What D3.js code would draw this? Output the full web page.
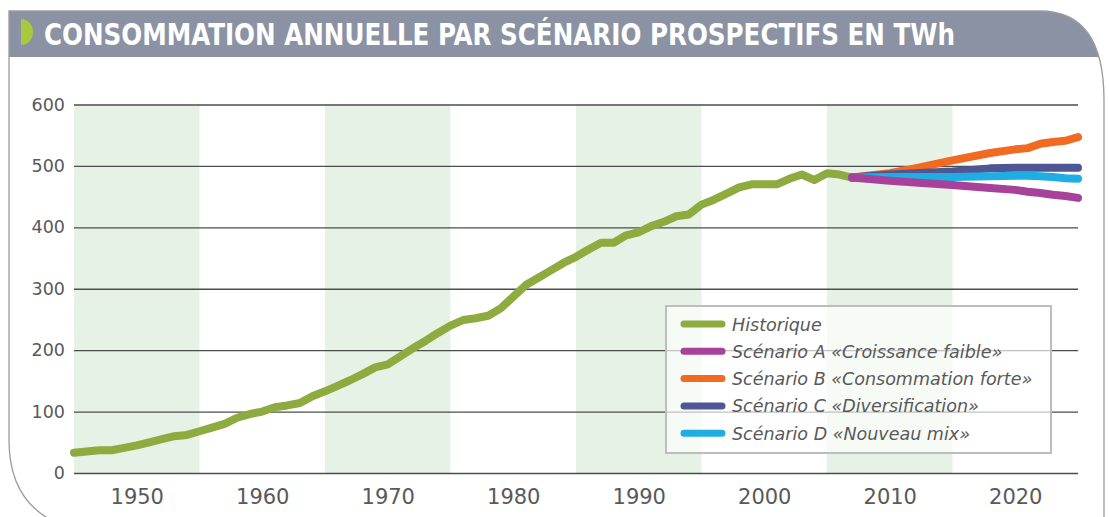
<!DOCTYPE html>
<html>
<head>
<meta charset="utf-8">
<script src="https://cdn.jsdelivr.net/npm/d3@7"></script>
<style>
  html, body { margin: 0; padding: 0; background: #fff; }
  svg { display: block; }
</style>
</head>
<body>
<div id="graphic"></div>
<script>
'use strict';

// --- data ---
const histYears = [1945, 1946, 1947, 1948, 1949, 1950, 1951, 1952, 1953, 1954, 1955, 1956, 1957, 1958, 1959,
  1960, 1961, 1962, 1963, 1964, 1965, 1966, 1967, 1968, 1969, 1970, 1971, 1972, 1973, 1974, 1975, 1976,
  1977, 1978, 1979, 1980, 1981, 1982, 1983, 1984, 1985, 1986, 1987, 1988, 1989, 1990, 1991, 1992, 1993,
  1994, 1995, 1996, 1997, 1998, 1999, 2000, 2001, 2002, 2003, 2004, 2005, 2006, 2007];
const histValues = [33, 35, 37, 37, 41, 45, 50, 55, 60, 62, 68, 74, 80, 90, 96,
  100, 107, 110, 114, 125, 133, 142, 151, 161, 172, 177, 190, 203, 215, 228, 240, 249,
  252, 256, 268, 287, 306, 318, 330, 342, 352, 364, 375, 375, 387, 392, 402, 409, 418,
  421, 437, 445, 455, 465, 470, 470, 470, 479, 486, 477, 488, 486, 481];

const scenYears = [2007, 2010, 2012, 2015, 2018, 2020, 2021, 2022, 2023, 2024, 2025];
const scenA = [481, 476, 473, 469, 464, 461, 458, 456, 453, 451, 448];
const scenB = [481, 488, 496, 509, 521, 527, 529, 536, 539, 541, 547];
const scenC = [481, 486, 488, 491, 496, 497, 497, 497, 497, 497, 497];
const scenD = [481, 482, 482, 482, 483, 484, 484, 483, 482, 480, 479];

const seriesNames = [
  'Historique',
  'Scénario A «Croissance faible»',
  'Scénario B «Consommation forte»',
  'Scénario C «Diversification»',
  'Scénario D «Nouveau mix»'
];
const seriesColors = ['#8dab3e', '#a8419a', '#f26a22', '#4e5793', '#20ade4'];

const yTicks = [0, 100, 200, 300, 400, 500, 600];
const xTicks = [1950, 1960, 1970, 1980, 1990, 2000, 2010, 2020];
const bandStarts = [1945, 1965, 1985, 2005];
const title = 'CONSOMMATION ANNUELLE PAR SCÉNARIO PROSPECTIFS EN TWh';

// --- layout ---
const width = 1109;
const height = 517;
const textColor = '#58595b';

const x = d3.scaleLinear().domain([1945, 2025]).range([74, 1078]);
const y = d3.scaleLinear().domain([0, 600]).range([473, 104.5]);

const svg = d3.select('#graphic').append('svg').attr('width', width).attr('height', height);

// frame + banner
const framePath = 'M55,522 Q9,500 9,440 L9,11 L1040,11 Q1104,11 1104,100 L1104,522';
svg.append('defs').append('clipPath').attr('id', 'bannerClip')
  .append('rect').attr('x', 0).attr('y', 0).attr('width', width).attr('height', 57);
svg.append('path').attr('d', framePath + ' Z').attr('fill', '#8b92a3').attr('clip-path', 'url(#bannerClip)');
svg.append('path').attr('d', framePath).attr('fill', 'none').attr('stroke', '#9b9b9b').attr('stroke-width', 1.3);

svg.append('path').attr('d', 'M21,19 A12,13 0 0 1 21,45 Z').attr('fill', '#a8c93b');
svg.append('text')
  .attr('x', 44).attr('y', 45)
  .attr('font-family', "'DejaVu Sans Condensed', 'DejaVu Sans', sans-serif")
  .attr('font-stretch', 'condensed')
  .attr('font-weight', 'bold')
  .attr('font-size', 30)
  .attr('fill', '#fff')
  .attr('textLength', 911)
  .attr('lengthAdjust', 'spacingAndGlyphs')
  .text(title);

// shaded decades
svg.append('g').selectAll('rect').data(bandStarts).join('rect')
  .attr('x', (d) => x(d)).attr('width', (d) => x(d + 10) - x(d))
  .attr('y', y(600)).attr('height', y(0) - y(600))
  .attr('fill', '#e6f2e6');

// y axis + grid
const yAxis = svg.append('g').attr('transform', `translate(${x(1945)},0)`)
  .call(d3.axisLeft(y).tickValues(yTicks).tickSize(-(x(2025) - x(1945))).tickPadding(9).tickFormat(d3.format('d')));
yAxis.select('.domain').remove();
yAxis.selectAll('line').attr('stroke', '#4d4d4d').attr('stroke-width', 1.3);
yAxis.selectAll('text')
  .attr('font-family', "'DejaVu Sans', sans-serif").attr('font-size', 17.5).attr('fill', textColor);

// x axis labels
const xAxis = svg.append('g').attr('transform', `translate(0,${y(0)})`)
  .call(d3.axisBottom(x).tickValues(xTicks).tickSize(0).tickPadding(16).tickFormat(d3.format('d')));
xAxis.select('.domain').remove();
xAxis.selectAll('text')
  .attr('font-family', "'DejaVu Sans', sans-serif").attr('font-size', 21).attr('fill', textColor);

// lines
const line = d3.line().x((d) => x(d[0])).y((d) => y(d[1]));
const lineData = [
  histYears.map((yr, i) => [yr, histValues[i]]),
  scenYears.map((yr, i) => [yr, scenA[i]]),
  scenYears.map((yr, i) => [yr, scenB[i]]),
  scenYears.map((yr, i) => [yr, scenC[i]]),
  scenYears.map((yr, i) => [yr, scenD[i]])
];
const drawOrder = [0, 2, 3, 4, 1];
svg.append('g').selectAll('path').data(drawOrder).join('path')
  .attr('d', (i) => line(lineData[i]))
  .attr('fill', 'none')
  .attr('stroke', (i) => seriesColors[i])
  .attr('stroke-width', 8)
  .attr('stroke-linecap', 'round')
  .attr('stroke-linejoin', 'round');

// legend
const legend = svg.append('g').attr('transform', 'translate(666,306)');
legend.append('rect').attr('width', 385).attr('height', 147)
  .attr('fill', '#fff').attr('fill-opacity', 0.65)
  .attr('stroke', '#bdbdbd').attr('stroke-width', 2);
const items = legend.selectAll('g.item').data(seriesNames).join('g')
  .attr('class', 'item')
  .attr('transform', (d, i) => `translate(0,${18 + i * 27.3})`);
items.append('line').attr('x1', 18).attr('x2', 56)
  .attr('stroke', (d, i) => seriesColors[i]).attr('stroke-width', 7).attr('stroke-linecap', 'round');
items.append('text').attr('x', 66).attr('y', 6.5)
  .attr('font-family', "'DejaVu Sans', sans-serif").attr('font-style', 'italic')
  .attr('font-size', 17.5).attr('fill', textColor)
  .text((d) => d);
</script>
</body>
</html>
